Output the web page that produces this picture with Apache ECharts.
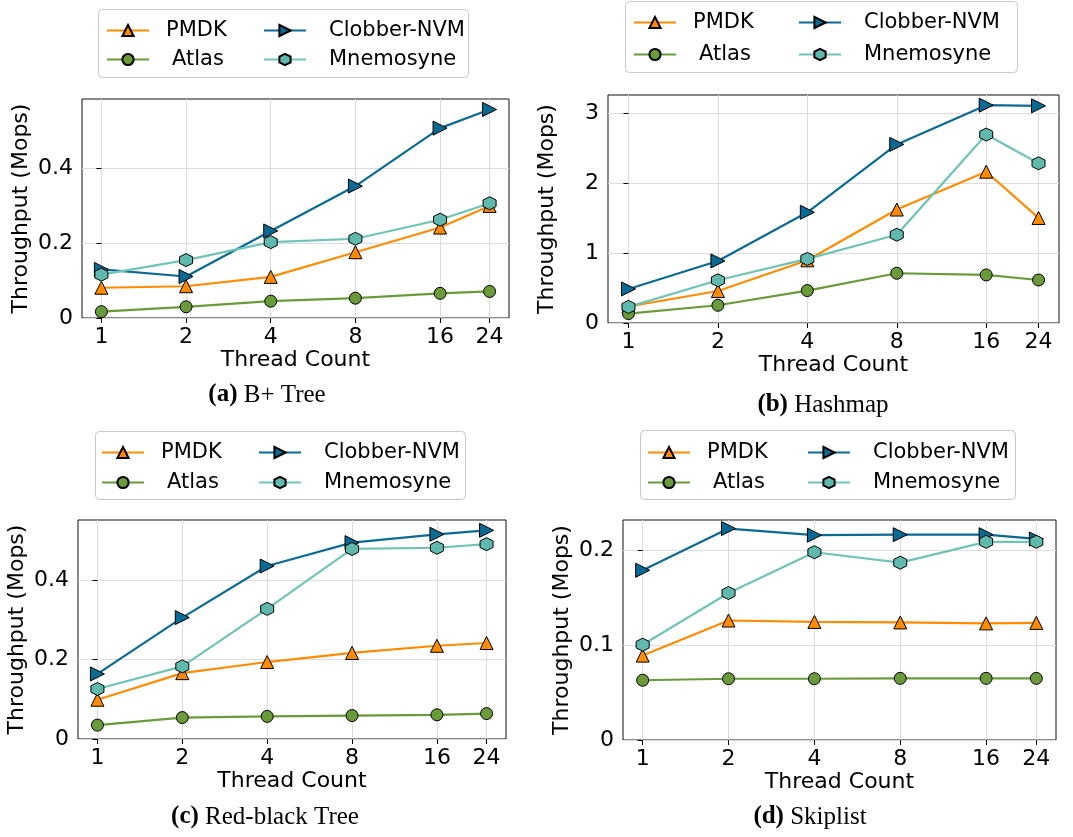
<!DOCTYPE html>
<html>
<head>
<meta charset="utf-8">
<script src="https://cdn.jsdelivr.net/npm/echarts@6/dist/echarts.min.js"></script>
<style>
  html, body { margin: 0; padding: 0; background: #fff; }
  #chart { width: 1073px; height: 837px; }
</style>
</head>
<body>
<div id="chart"></div>
<script>
// thread counts on the x axis (log2 spaced)
var threads = [1, 2, 4, 8, 16, 24];

// (a) B+ Tree
var bptPmdk = [0.081, 0.085, 0.110, 0.176, 0.242, 0.300];
var bptAtlas = [0.017, 0.030, 0.045, 0.053, 0.066, 0.071];
var bptClobber = [0.130, 0.111, 0.233, 0.353, 0.508, 0.558];
var bptMnemo = [0.116, 0.155, 0.203, 0.212, 0.263, 0.307];
var bptTicks = [0, 0.2, 0.4];

// (b) Hashmap
var hashPmdk = [0.235, 0.457, 0.895, 1.62, 2.16, 1.50];
var hashAtlas = [0.134, 0.253, 0.463, 0.710, 0.686, 0.614];
var hashClobber = [0.486, 0.886, 1.58, 2.55, 3.11, 3.10];
var hashMnemo = [0.230, 0.610, 0.915, 1.26, 2.69, 2.28];
var hashTicks = [0, 1, 2, 3];

// (c) Red-black Tree
var rbPmdk = [0.099, 0.166, 0.194, 0.217, 0.235, 0.242];
var rbAtlas = [0.035, 0.054, 0.057, 0.059, 0.061, 0.064];
var rbClobber = [0.164, 0.306, 0.436, 0.495, 0.516, 0.526];
var rbMnemo = [0.126, 0.183, 0.328, 0.479, 0.482, 0.491];
var rbTicks = [0, 0.2, 0.4];

// (d) Skiplist
var skipPmdk = [0.089, 0.126, 0.1245, 0.124, 0.123, 0.1235];
var skipAtlas = [0.063, 0.0646, 0.0646, 0.065, 0.065, 0.065];
var skipClobber = [0.179, 0.223, 0.216, 0.2165, 0.2165, 0.212];
var skipMnemo = [0.1005, 0.155, 0.198, 0.187, 0.209, 0.209];
var skipTicks = [0, 0.1, 0.2];

var names = ["PMDK", "Atlas", "Clobber-NVM", "Mnemosyne"];
var colors = ["#ff8c00", "#6a9a3a", "#0b6a94", "#70c4b5"];
var markerFill = ["#ff8c00", "#6a9a3a", "#0b6a94", "#5fb9ad"];
var hexagon = "path://M0,-10 L8.66,-5 L8.66,5 L0,10 L-8.66,5 L-8.66,-5 Z";
var symbols = ["triangle", "circle", "triangle", hexagon];
var rotates = [0, 0, -90, 0];
var sizes = [13, 12, 14, 13];
// legend text slot: rich style key per series
var legendSlot = { "PMDK": "p", "Atlas": "a", "Clobber-NVM": "c", "Mnemosyne": "c" };

// legend: box = frame, col1/col2 = left of each legend column, row = first row centre, gap = row spacing
var panels = [
    { data: [bptPmdk, bptAtlas, bptClobber, bptMnemo], ticks: bptTicks, ymax: 0.586,
      grid: { left: 82, top: 99, width: 427, height: 219 },
      legend: { box: [98, 9, 370, 68], col1: 106, col2: 263, row: 26, gap: 31 },
      cap: { x: 267, y: 395, tag: "(a)", text: " B+ Tree" } },
    { data: [hashPmdk, hashAtlas, hashClobber, hashMnemo], ticks: hashTicks, ymax: 3.255,
      grid: { left: 608, top: 95, width: 451, height: 228 },
      legend: { box: [625, 1, 392, 71], col1: 633, col2: 798, row: 18, gap: 34 },
      cap: { x: 823, y: 405, tag: "(b)", text: " Hashmap" } },
    { data: [rbPmdk, rbAtlas, rbClobber, rbMnemo], ticks: rbTicks, ymax: 0.552,
      grid: { left: 78, top: 520, width: 428, height: 219 },
      legend: { box: [95, 431, 370, 68], col1: 101, col2: 258, row: 448, gap: 32 },
      cap: { x: 265, y: 817, tag: "(c)", text: " Red-black Tree" } },
    { data: [skipPmdk, skipAtlas, skipClobber, skipMnemo], ticks: skipTicks, ymax: 0.232,
      grid: { left: 623, top: 520, width: 433, height: 220 },
      legend: { box: [640, 430, 375, 69], col1: 647, col2: 807, row: 448, gap: 32 },
      cap: { x: 810, y: 817, tag: "(d)", text: " Skiplist" } }
];

var xPos = threads.map(function (t) { return Math.log2(t); });
var font = "DejaVu Sans";

var option = {
    backgroundColor: "#fff",
    animation: false,
    grid: [], xAxis: [], yAxis: [], series: [], legend: [], graphic: []
};

function legendColumn(lg, left, items) {
    return {
        left: left, top: lg.row - 6, orient: "vertical",
        padding: 0, itemGap: lg.gap - 23, itemWidth: 42, itemHeight: 14,
        data: items,
        formatter: function (name) { return "{" + legendSlot[name] + "|" + name + "}"; },
        textStyle: {
            fontFamily: font, fontSize: 21, color: "#000",
            rich: {
                p: { fontFamily: font, fontSize: 21, padding: [0, 0, 0, 12] },
                a: { fontFamily: font, fontSize: 21, padding: [0, 0, 0, 18] },
                c: { fontFamily: font, fontSize: 21, padding: [0, 0, 0, 18] }
            }
        }
    };
}

panels.forEach(function (p, k) {
    option.grid.push({
        left: p.grid.left, top: p.grid.top, width: p.grid.width, height: p.grid.height,
        show: true, borderColor: "#111", borderWidth: 1, containLabel: false
    });
    option.xAxis.push({
        gridIndex: k, type: "value", min: -0.229, max: 4.814,
        name: "Thread Count", nameLocation: "middle", nameGap: 31,
        nameTextStyle: { fontFamily: font, fontSize: 22, color: "#000" },
        axisLine: { show: false },
        axisTick: { show: true, length: 5, customValues: xPos, lineStyle: { color: "#000" } },
        axisLabel: {
            customValues: xPos, margin: 8, fontFamily: font, fontSize: 22, color: "#000",
            formatter: function (v) { return String(Math.round(Math.pow(2, v))); }
        },
        splitLine: { show: true, lineStyle: { color: "#dcdcdc", width: 1 } }
    });
    option.yAxis.push({
        gridIndex: k, type: "value", min: 0, max: p.ymax,
        name: "Throughput (Mops)", nameLocation: "middle", nameGap: 50,
        nameTextStyle: { fontFamily: font, fontSize: 22, color: "#000" },
        axisLine: { show: false },
        axisTick: { show: true, length: 5, customValues: p.ticks, lineStyle: { color: "#000" } },
        axisLabel: { customValues: p.ticks, margin: 9, fontFamily: font, fontSize: 22, color: "#000" },
        splitLine: { show: true, lineStyle: { color: "#dcdcdc", width: 1 } }
    });
    names.forEach(function (n, i) {
        option.series.push({
            name: n, type: "line", xAxisIndex: k, yAxisIndex: k,
            data: xPos.map(function (x, j) { return [x, p.data[i][j]]; }),
            symbol: symbols[i], symbolSize: sizes[i], symbolRotate: rotates[i],
            showAllSymbol: true,
            lineStyle: { color: colors[i], width: 2.2 },
            itemStyle: { color: markerFill[i], borderColor: "#000", borderWidth: 1 },
            z: 2 + i
        });
    });
    option.legend.push(legendColumn(p.legend, p.legend.col1, ["PMDK", "Atlas"]));
    option.legend.push(legendColumn(p.legend, p.legend.col2, ["Clobber-NVM", "Mnemosyne"]));
    // legend frame
    option.graphic.push({
        type: "rect", silent: true, z: 1,
        shape: { x: p.legend.box[0] + 0.5, y: p.legend.box[1] + 0.5, width: p.legend.box[2], height: p.legend.box[3], r: 4 },
        style: { fill: "rgba(255,255,255,0.8)", stroke: "#c8c8c8", lineWidth: 1 }
    });
    option.graphic.push({
        type: "text", x: p.cap.x, y: p.cap.y,
        style: {
            text: "{b|" + p.cap.tag + "}{n|" + p.cap.text + "}",
            align: "center", verticalAlign: "middle",
            rich: {
                b: { fontFamily: "Liberation Serif", fontSize: 25, fontWeight: "bold", fill: "#000" },
                n: { fontFamily: "Liberation Serif", fontSize: 25, fill: "#000" }
            }
        }
    });
});

var chart = echarts.init(document.getElementById("chart"));
chart.setOption(option);
</script>
</body>
</html>
